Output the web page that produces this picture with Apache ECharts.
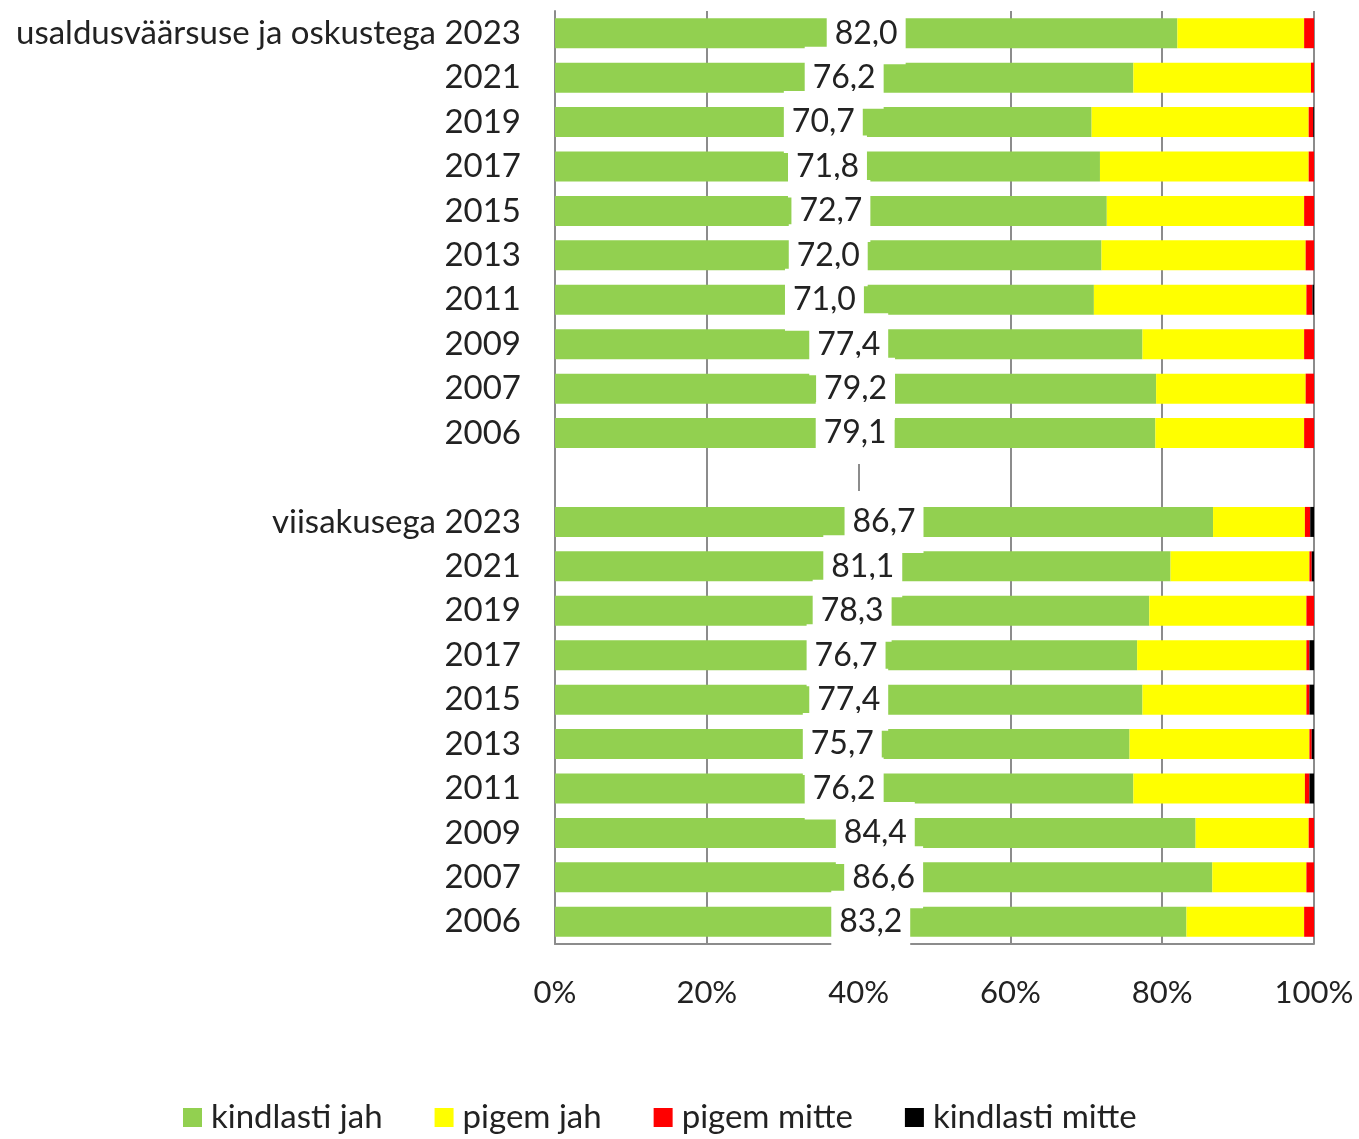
<!DOCTYPE html>
<html>
<head>
<meta charset="utf-8">
<script src="https://cdn.jsdelivr.net/npm/echarts@6/dist/echarts.min.js"></script>
<style>
  html, body { margin: 0; padding: 0; background: #fff; }
  #chart { width: 1359px; height: 1139px; }
</style>
</head>
<body>
<div id="chart"></div>
<script>
const categories = [
  "usaldusväärsuse ja oskustega 2023", "2021", "2019", "2017", "2015", "2013", "2011", "2009", "2007", "2006",
  "",
  "viisakusega 2023", "2021", "2019", "2017", "2015", "2013", "2011", "2009", "2007", "2006"
];
const kindlastiJah = [82.0, 76.2, 70.7, 71.8, 72.7, 72.0, 71.0, 77.4, 79.2, 79.1, null, 86.7, 81.1, 78.3, 76.7, 77.4, 75.7, 76.2, 84.4, 86.6, 83.2];
const pigemJah = [16.7, 23.4, 28.6, 27.5, 26.0, 26.9, 28.0, 21.3, 19.7, 19.6, null, 12.1, 18.3, 20.7, 22.3, 21.6, 23.7, 22.6, 14.9, 12.4, 15.5];
const pigemMitte = [1.3, 0.4, 0.6, 0.7, 1.3, 1.1, 0.8, 1.3, 1.1, 1.3, null, 0.7, 0.3, 1.0, 0.4, 0.4, 0.3, 0.6, 0.7, 1.0, 1.3];
const kindlastiMitte = [0, 0, 0.1, 0, 0, 0, 0.2, 0, 0, 0, null, 0.5, 0.3, 0, 0.6, 0.6, 0.3, 0.6, 0, 0, 0];
const seriesNames = ["kindlasti jah", "pigem jah", "pigem mitte", "kindlasti mitte"];
const colors = ["#92D050", "#FFFF00", "#FF0000", "#000000"];

const font = "Lato, 'Open Sans', sans-serif";
const chart = echarts.init(document.getElementById("chart"));

function bar(name, data, color, withLabel) {
  const s = {
    name: name,
    type: "bar",
    stack: "total",
    data: data,
    barWidth: 30,
    itemStyle: { color: color },
    emphasis: { disabled: true }
  };
  if (withLabel) {
    s.label = {
      show: true,
      position: "inside",
      color: "#222",
      fontFamily: font,
      fontSize: 32,
      lineHeight: 32,
      backgroundColor: "#fff",
      padding: [15, 8],
      formatter: (p) => p.value == null ? "" : p.value.toFixed(1).replace(".", ",")
    };
  }
  return s;
}

chart.setOption({
  animation: false,
  color: colors,
  grid: { left: 555, right: 45, top: 11, bottom: 195 },
  xAxis: {
    type: "value",
    min: 0,
    max: 100,
    interval: 20,
    axisLine: { show: true, lineStyle: { color: "#8c8c8c", width: 2 } },
    axisTick: { show: false },
    axisLabel: { formatter: "{value}%", color: "#222", fontFamily: font, fontSize: 31, margin: 33 },
    splitLine: { show: true, lineStyle: { color: "#8c8c8c", width: 2 } }
  },
  yAxis: {
    type: "category",
    inverse: true,
    data: categories,
    axisLine: { show: true, lineStyle: { color: "#8c8c8c", width: 2 } },
    axisTick: { show: false },
    axisLabel: { color: "#222", fontFamily: font, fontSize: 33, margin: 34, interval: 0 }
  },
  legend: {
    bottom: 0,
    left: 178,
    icon: "rect",
    itemWidth: 19,
    itemHeight: 19,
    itemGap: 52,
    textStyle: { color: "#222", fontFamily: font, fontSize: 33, padding: [0, 0, 0, 4] },
    data: seriesNames
  },
  series: [
    bar(seriesNames[0], kindlastiJah, colors[0], true),
    bar(seriesNames[1], pigemJah, colors[1], false),
    bar(seriesNames[2], pigemMitte, colors[2], false),
    bar(seriesNames[3], kindlastiMitte, colors[3], false)
  ]
});
</script>
</body>
</html>
